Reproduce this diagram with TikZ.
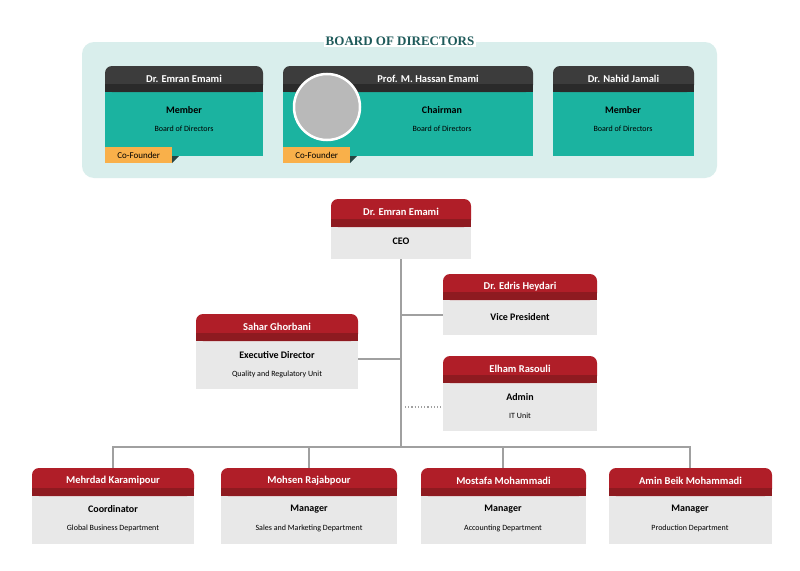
\documentclass[tikz,border=0pt]{standalone}
\usepackage{fontspec}
\setmainfont{Carlito}
\newfontfamily\titlefont{Liberation Serif}
\usetikzlibrary{calc}
\definecolor{panel}{HTML}{D9EEEC}
\definecolor{teal}{HTML}{1BB3A0}
\definecolor{dkhead}{HTML}{3C3C3C}
\definecolor{dkband}{HTML}{2A2A2A}
\definecolor{redhead}{HTML}{B01E28}
\definecolor{redband}{HTML}{8E1A20}
\definecolor{bodygray}{HTML}{E8E8E8}
\definecolor{lnc}{HTML}{A0A0A0}
\definecolor{tag}{HTML}{F9B04A}
\definecolor{ttl}{HTML}{1E5A5A}
\tikzset{
  conn/.style={draw=lnc,line width=2.5pt},
  nm/.style={text=white,font=\bfseries\fontsize{10.5}{12}\selectfont},
  role/.style={font=\bfseries\fontsize{10}{12}\selectfont},
  sm/.style={font=\fontsize{8}{10}\selectfont},
}
% name, x1,y1,x2,y2, header bottom, name text, role, small, head colour, band colour, body colour, role y, small y
\newcommand\mycard[9]{%
  \fill[#9body] (#2,#6) rectangle (#4,#5);
  \fill[#9head,rounded corners=7pt] (#2,#6) -- (#2,#3) -- (#4,#3) -- (#4,#6) -- cycle;
  \fill[#9band] (#2,#6-8) rectangle (#4,#6);
  \node[coordinate] (#1) at ({(#2+#4)/2},{(#3+#5)/2}) {};
  \node[nm] (#1-n) at ({(#2+#4)/2},{#3+13}) {#7};
}
\newcommand\rolesub[5]{%
  \node[role] (#1-r) at (#2,#3) {#4};
  \node[sm] (#1-s) at (#2,#3+19) {#5};
}
\begin{document}
\begin{tikzpicture}[x=1pt,y=-1pt]
\useasboundingbox (0,0) rectangle (800,570);
\fill[white] (0,0) rectangle (800,570);
% board panel
\fill[panel,rounded corners=12pt] (82,42) rectangle (717,178);
\node[fill=white,inner sep=2pt,text=ttl,font=\titlefont\bfseries\fontsize{13}{15}\selectfont] (title) at (400,41) {BOARD OF DIRECTORS};
\colorlet{dbody}{teal}\colorlet{dhead}{dkhead}\colorlet{dband}{dkband}
\colorlet{rbody}{bodygray}\colorlet{rhead}{redhead}\colorlet{rband}{redband}
\mycard{b1}{105}{66}{263}{156}{92}{Dr. Emran Emami}{}{d}
\rolesub{b1}{184}{110}{Member}{Board of Directors}
\mycard{b2}{283}{66}{533}{156}{92}{\hspace*{40pt}Prof. M. Hassan Emami}{}{d}
\rolesub{b2}{442}{110}{Chairman}{Board of Directors}
\mycard{b3}{553}{66}{694}{156}{92}{Dr. Nahid Jamali}{}{d}
\rolesub{b3}{623}{110}{Member}{Board of Directors}
\node[circle,draw=white,line width=2.5pt,fill=gray!55,minimum size=66pt,inner sep=0] (photo) at (327,107) {};
\foreach \x/\n in {105/t1,283/t2}{
  \fill[dkband!80!teal] (\x+67,163) -- (\x+67,156) -- (\x+74,156) -- cycle;
  \node[fill=tag,anchor=north west,minimum width=67pt,minimum height=16pt,inner sep=0,font=\fontsize{9}{11}\selectfont] (\n) at (\x,147) {Co-Founder};
}
% red cards
\mycard{ceo}{331}{199}{471}{259}{227}{Dr. Emran Emami}{}{r}
\node[role] (ceo-r) at (401,241) {CEO};
\mycard{vp}{443}{274}{597}{335}{300}{Dr. Edris Heydari}{}{r}
\node[role] (vp-r) at (520,317) {Vice President};
\mycard{sg}{196}{314}{358}{389}{341}{Sahar Ghorbani}{}{r}
\rolesub{sg}{277}{355}{Executive Director}{Quality and Regulatory Unit}
\mycard{er}{443}{356}{597}{431}{383}{Elham Rasouli}{}{r}
\rolesub{er}{520}{397}{Admin}{IT Unit}
\mycard{c1}{32}{468}{194}{544}{496}{Mehrdad Karamipour}{}{r}
\rolesub{c1}{113}{509}{Coordinator}{Global Business Department}
\mycard{c2}{221}{468}{397}{544}{496}{Mohsen Rajabpour}{}{r}
\rolesub{c2}{309}{509}{Manager}{Sales and Marketing Department}
\mycard{c3}{421}{468}{586}{544}{496}{Mostafa Mohammadi}{}{r}
\rolesub{c3}{503}{509}{Manager}{Accounting Department}
\mycard{c4}{609}{468}{772}{544}{496}{Amin Beik Mohammadi}{}{r}
\rolesub{c4}{690}{509}{Manager}{Production Department}
% connectors
\coordinate (top) at (401,259);
\coordinate (bus) at (401,447);
\coordinate (jv) at (401,315);
\coordinate (js) at (401,359);
\coordinate (jd) at (405,407);
\coordinate (vpl) at (443,315);
\coordinate (sgr) at (358,359);
\coordinate (erl) at (443,407);
\draw[conn] (top) -- (bus);
\draw[conn] (jv) -- (vpl);
\draw[conn] (sgr) -- (js);
\draw[lnc,line width=1.2pt,dotted] (jd) -- (erl);
\draw[conn] (113,447) -- (690,447);
\foreach \x/\c in {113/c1,309/c2,503/c3,690/c4}{
  \coordinate (\c-t) at (\x,468);
  \draw[conn] (\x,446) -- (\c-t);
}
\end{tikzpicture}
\end{document}
